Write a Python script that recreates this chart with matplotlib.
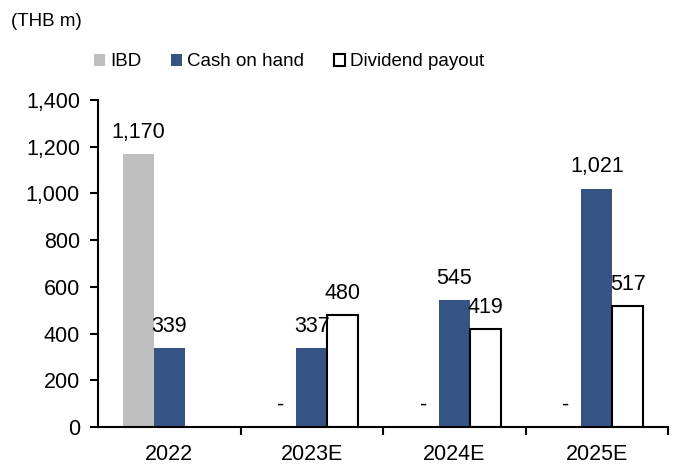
import matplotlib
matplotlib.use("Agg")
import matplotlib.pyplot as plt
import numpy as np
from matplotlib.patches import Patch

plt.rcParams['font.family'] = ['Liberation Sans', 'DejaVu Sans']

categories = ["2022", "2023E", "2024E", "2025E"]
ibd = [1170, 0, 0, 0]
cash = [339, 337, 545, 1021]
dividend = [np.nan, 480, 419, 517]

c_ibd = "#BFBFBF"
c_cash = "#355485"

fig = plt.figure(figsize=(6.8, 4.65), dpi=100)
ax = fig.add_axes([98/680, 1-427/465, (668-98)/680, (427-100)/465])

x = np.arange(len(categories))
w = 0.218
ax.bar(x - w, ibd, w, color=c_ibd, label="IBD")
ax.bar(x, cash, w, color=c_cash, label="Cash on hand")
ax.bar(x + w, dividend, w, facecolor="white", edgecolor="black", linewidth=1.5, label="Dividend payout")

def fmt(v):
    if v is None or (isinstance(v, float) and np.isnan(v)):
        return None
    return "-" if v == 0 else f"{v:,.0f}"

fs = 15.5
for i in range(len(categories)):
    for off, vals in ((-w, ibd), (0, cash), (w, dividend)):
        s = fmt(vals[i])
        if s is None:
            continue
        ax.annotate(s, (x[i] + off, vals[i]), xytext=(0, 8), textcoords="offset points",
                    ha="center", va="bottom", fontsize=fs)

ax.set_xlim(-0.5, 3.5)
ax.set_ylim(0, 1400)
ax.set_yticks(np.arange(0, 1401, 200))
ax.set_yticklabels([f"{v:,}" for v in range(0, 1401, 200)], fontsize=fs)
ax.set_xticks(x)
ax.set_xticklabels(categories, fontsize=fs)
ax.set_xticks([0.5, 1.5, 2.5, 3.5], minor=True)
ax.tick_params(axis="x", which="major", length=0, pad=12)
ax.tick_params(axis="x", which="minor", length=6, width=1.5, direction="out")
ax.tick_params(axis="y", length=6, width=1.5, direction="out", pad=7)
for sp in ("top", "right"):
    ax.spines[sp].set_visible(False)
for sp in ("left", "bottom"):
    ax.spines[sp].set_linewidth(1.5)

fig.text(11/680, 1-22/465, "(THB m)", fontsize=13.5, ha="left", va="center")

handles = [Patch(facecolor=c_ibd, edgecolor="none"),
           Patch(facecolor=c_cash, edgecolor="none"),
           Patch(facecolor="white", edgecolor="black", linewidth=1.5)]
fig.legend(handles, ["IBD", "Cash on hand", "Dividend payout"], ncol=3, loc="center",
           bbox_to_anchor=(289/680, 1-62/465), frameon=False, fontsize=13.5,
           handlelength=0.6, handleheight=0.6, handletextpad=0.25, columnspacing=1.6)

fig.savefig("out.png", dpi=100)
